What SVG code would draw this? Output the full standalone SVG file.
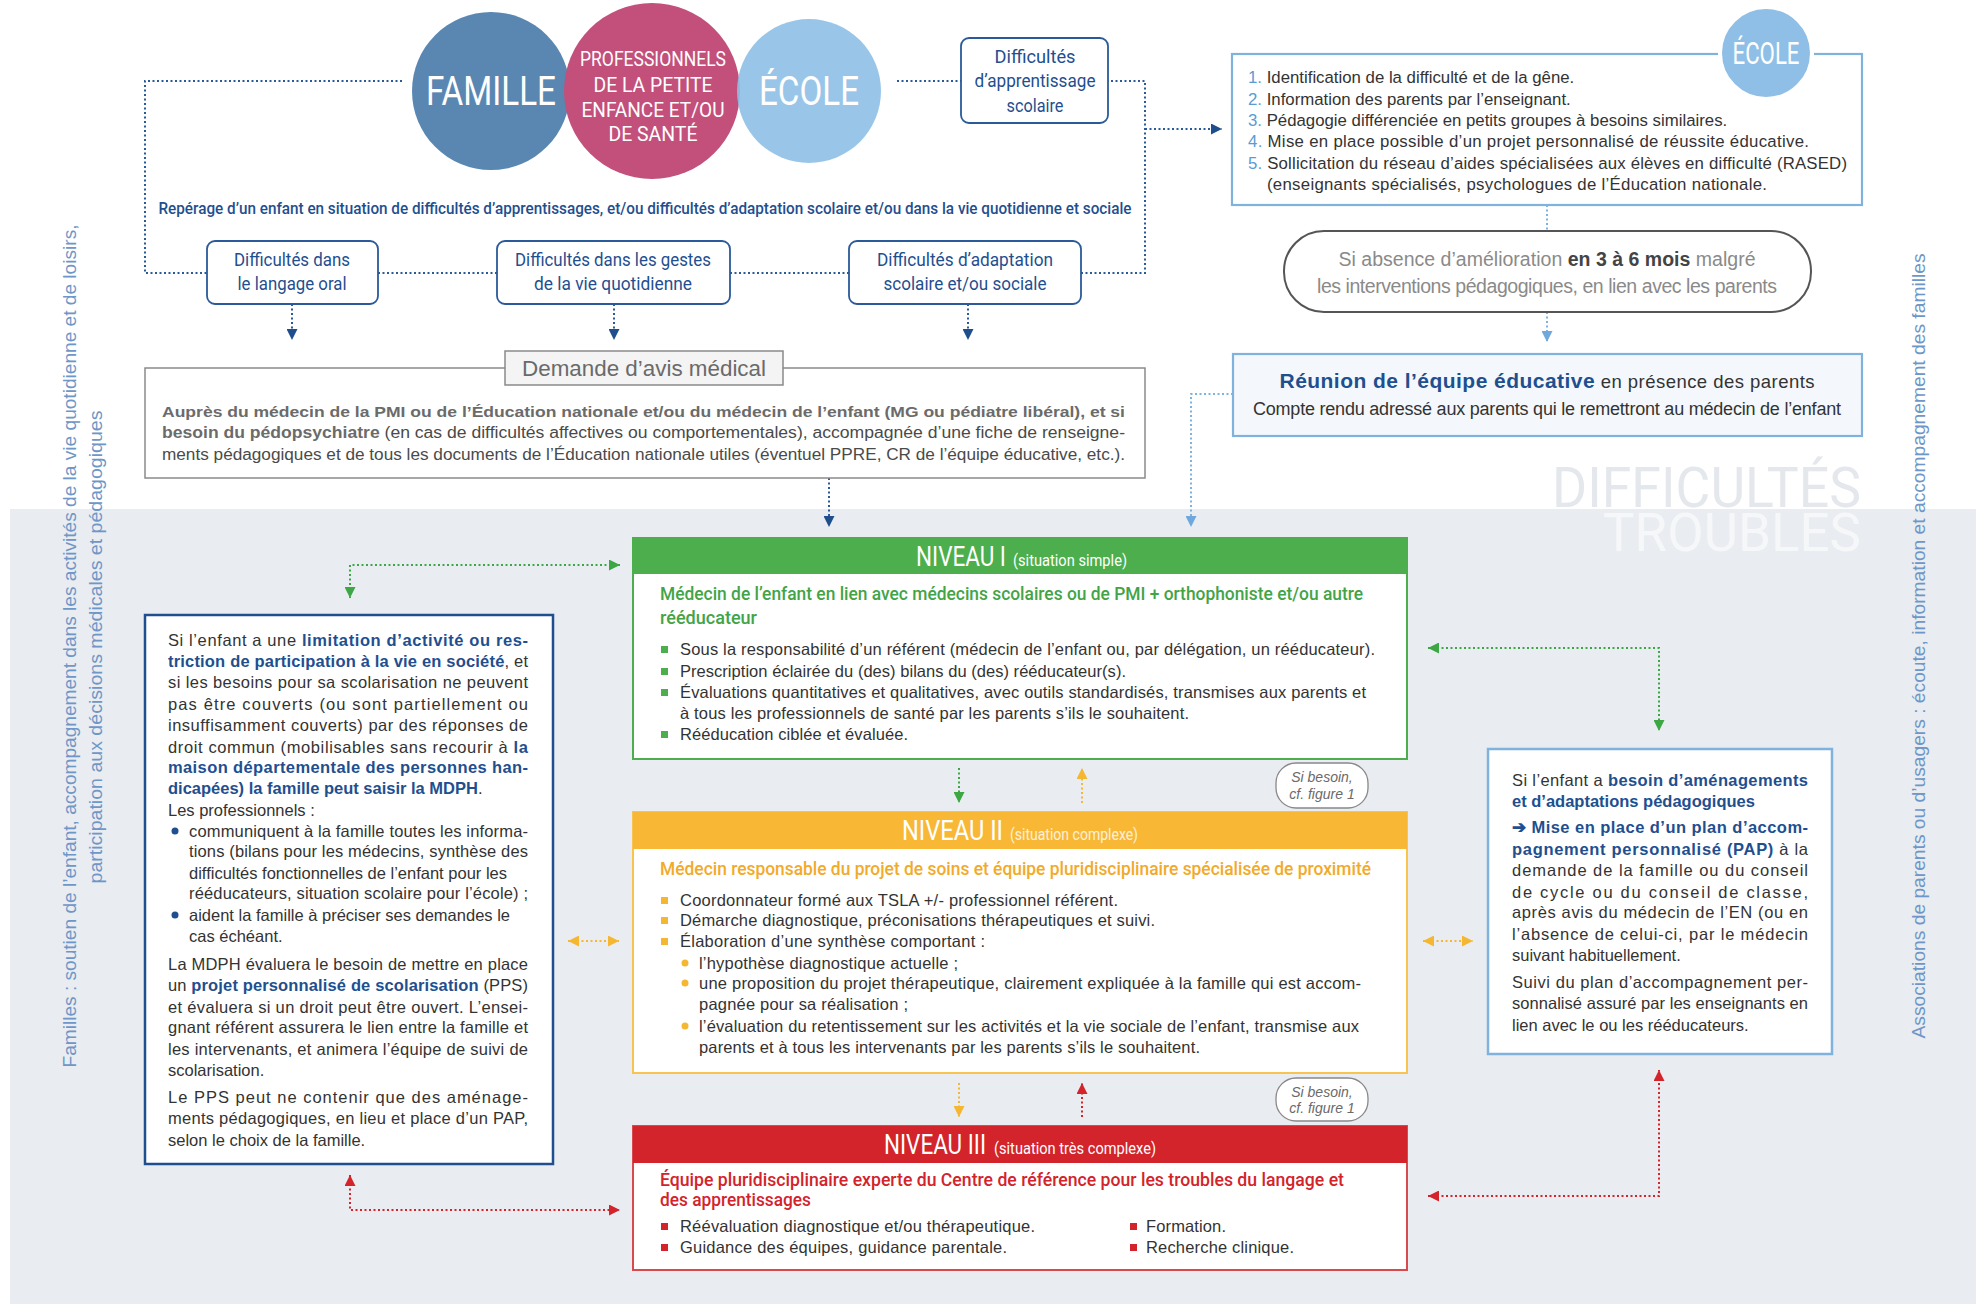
<svg xmlns="http://www.w3.org/2000/svg" width="1981" height="1304" viewBox="0 0 1981 1304">
<defs>
<style>
.t{font-family:"Liberation Sans",Arial,sans-serif;font-size:16.5px;fill:#333}
.b{font-weight:bold;fill:#1f4f8f}
.c{font-family:Roboto,"Open Sans",sans-serif}
.dot{fill:none;stroke-width:2;stroke-dasharray:2 2.5}
.nv{stroke:#2a5a9a}
.lb{stroke:#7fb3de}
.gr{stroke:#3da744}
.or{stroke:#f5b731}
.rd{stroke:#d3232b}
.box{fill:#fff;stroke:#2a5a9a;stroke-width:1.8}
.bt{font-family:Roboto,"Open Sans",sans-serif;font-size:18px;fill:#1f4f8f}
.hd{font-family:Roboto,"Open Sans",sans-serif;fill:#fff}
.pill{fill:#fff;stroke:#888;stroke-width:1.3}
.pt{font-family:"Liberation Sans",Arial,sans-serif;font-style:italic;font-size:14px;fill:#6a6a6a}
.side{font-family:"Liberation Sans",Arial,sans-serif;font-size:18px;fill:#6e96c6}
</style>
<marker id="aNv" viewBox="0 0 10 10" refX="10" refY="5" markerWidth="11" markerHeight="11" markerUnits="userSpaceOnUse" orient="auto-start-reverse"><path d="M0,0 L10,5 L0,10 z" fill="#1f4e8c"/></marker>
<marker id="aLb" viewBox="0 0 10 10" refX="10" refY="5" markerWidth="11" markerHeight="11" markerUnits="userSpaceOnUse" orient="auto-start-reverse"><path d="M0,0 L10,5 L0,10 z" fill="#6fa8dc"/></marker>
<marker id="aGr" viewBox="0 0 10 10" refX="10" refY="5" markerWidth="11" markerHeight="11" markerUnits="userSpaceOnUse" orient="auto-start-reverse"><path d="M0,0 L10,5 L0,10 z" fill="#3da744"/></marker>
<marker id="aOr" viewBox="0 0 10 10" refX="10" refY="5" markerWidth="11" markerHeight="11" markerUnits="userSpaceOnUse" orient="auto-start-reverse"><path d="M0,0 L10,5 L0,10 z" fill="#f5b731"/></marker>
<marker id="aRd" viewBox="0 0 10 10" refX="10" refY="5" markerWidth="11" markerHeight="11" markerUnits="userSpaceOnUse" orient="auto-start-reverse"><path d="M0,0 L10,5 L0,10 z" fill="#d3232b"/></marker>
</defs>

<rect x="0" y="0" width="1981" height="1304" fill="#fff"/>
<rect x="10" y="509" width="1966" height="795" fill="#e9ecf1"/>

<g id="watermark" class="c">
<text x="1552" y="507" font-size="55" fill="#e4e7ec" textLength="309" lengthAdjust="spacingAndGlyphs">DIFFICULTÉS</text>
<text x="1603" y="551" font-size="53" fill="#f6f7f9" textLength="258" lengthAdjust="spacingAndGlyphs">TROUBLES</text>
</g>

<g id="side-left" class="side" text-anchor="middle">
<text transform="translate(76,646) rotate(-90)" textLength="843" lengthAdjust="spacingAndGlyphs">Familles : soutien de l’enfant, accompagnement dans les activités de la vie quotidienne et de loisirs,</text>
<text transform="translate(102,647) rotate(-90)" textLength="473" lengthAdjust="spacingAndGlyphs">participation aux décisions médicales et pédagogiques</text>
</g>
<g id="side-right" class="side" text-anchor="middle">
<text transform="translate(1925,646) rotate(-90)" textLength="785" lengthAdjust="spacingAndGlyphs">Associations de parents ou d’usagers : écoute, information et accompagnement des familles</text>
</g>

<g id="connectors">
<path class="dot nv" d="M402,81 H145 V273 H207 M378,273 H497 M730,273 H849 M1081,273 H1145 V81 H1108 M897,81 H961"/>
<path class="dot nv" d="M1145,129 H1222" marker-end="url(#aNv)"/>
<path class="dot nv" d="M292,304 V340" marker-end="url(#aNv)"/>
<path class="dot nv" d="M614,304 V340" marker-end="url(#aNv)"/>
<path class="dot nv" d="M968,304 V340" marker-end="url(#aNv)"/>
<path class="dot nv" d="M829,478 V527" marker-end="url(#aNv)"/>
<path class="dot lb" d="M1547,205 V231"/>
<path class="dot lb" d="M1547,312 V342" marker-end="url(#aLb)"/>
<path class="dot lb" d="M1233,394 H1191 V527" marker-end="url(#aLb)"/>
<path class="dot gr" d="M620,565 H350 V598" marker-start="url(#aGr)" marker-end="url(#aGr)"/>
<path class="dot gr" d="M1428,648 H1659 V731" marker-start="url(#aGr)" marker-end="url(#aGr)"/>
<path class="dot gr" d="M959,768 V803" marker-end="url(#aGr)"/>
<path class="dot or" d="M1082,803 V768" marker-end="url(#aOr)"/>
<path class="dot or" d="M568,941 H619" marker-start="url(#aOr)" marker-end="url(#aOr)"/>
<path class="dot or" d="M1423,941 H1473" marker-start="url(#aOr)" marker-end="url(#aOr)"/>
<path class="dot or" d="M959,1083 V1117" marker-end="url(#aOr)"/>
<path class="dot rd" d="M1082,1117 V1083" marker-end="url(#aRd)"/>
<path class="dot rd" d="M350,1175 V1210 H620" marker-start="url(#aRd)" marker-end="url(#aRd)"/>
<path class="dot rd" d="M1428,1196 H1659 V1070" marker-start="url(#aRd)" marker-end="url(#aRd)"/>
</g>

<g id="famille">
<circle cx="491" cy="91" r="79" fill="#5a87b2"/>
<text class="hd" x="491" y="105" font-size="40" text-anchor="middle" textLength="130" lengthAdjust="spacingAndGlyphs">FAMILLE</text>
</g>
<g id="professionnels">
<circle cx="652" cy="91" r="88" fill="#c2507b"/>
<g class="hd" font-size="20" text-anchor="middle">
<text x="653" y="66" textLength="146" lengthAdjust="spacingAndGlyphs">PROFESSIONNELS</text>
<text x="653" y="92" textLength="119" lengthAdjust="spacingAndGlyphs">DE LA PETITE</text>
<text x="653" y="117" textLength="143" lengthAdjust="spacingAndGlyphs">ENFANCE ET/OU</text>
<text x="653" y="141" textLength="89" lengthAdjust="spacingAndGlyphs">DE SANTÉ</text>
</g>
</g>
<g id="ecole">
<circle cx="809" cy="91" r="72" fill="#8ec0e6" opacity="0.9"/>
<text class="hd" x="809" y="105" font-size="40" text-anchor="middle" textLength="100" lengthAdjust="spacingAndGlyphs">ÉCOLE</text>
</g>

<g id="diff-apprentissage">
<rect class="box" x="961" y="38" width="147" height="85" rx="8"/>
<text class="bt" x="1035" y="63" text-anchor="middle" textLength="81" lengthAdjust="spacingAndGlyphs">Difficultés</text>
<text class="bt" x="1035" y="87" text-anchor="middle" textLength="121" lengthAdjust="spacingAndGlyphs">d’apprentissage</text>
<text class="bt" x="1035" y="112" text-anchor="middle" textLength="57" lengthAdjust="spacingAndGlyphs">scolaire</text>
</g>

<g id="reperage">
<text class="c" x="645" y="214" font-size="17" font-weight="500" fill="#1f4f8f" text-anchor="middle" textLength="973" lengthAdjust="spacingAndGlyphs">Repérage d’un enfant en situation de difficultés d’apprentissages, et/ou difficultés d’adaptation scolaire et/ou dans la vie quotidienne et sociale</text>
</g>

<g id="diff-langage">
<rect class="box" x="207" y="241" width="171" height="63" rx="8"/>
<text class="bt" x="292" y="266" text-anchor="middle" textLength="116" lengthAdjust="spacingAndGlyphs">Difficultés dans</text>
<text class="bt" x="292" y="290" text-anchor="middle" textLength="109" lengthAdjust="spacingAndGlyphs">le langage oral</text>
</g>
<g id="diff-gestes">
<rect class="box" x="497" y="241" width="233" height="63" rx="8"/>
<text class="bt" x="613" y="266" text-anchor="middle" textLength="196" lengthAdjust="spacingAndGlyphs">Difficultés dans les gestes</text>
<text class="bt" x="613" y="290" text-anchor="middle" textLength="158" lengthAdjust="spacingAndGlyphs">de la vie quotidienne</text>
</g>
<g id="diff-adaptation">
<rect class="box" x="849" y="241" width="232" height="63" rx="8"/>
<text class="bt" x="965" y="266" text-anchor="middle" textLength="176" lengthAdjust="spacingAndGlyphs">Difficultés d’adaptation</text>
<text class="bt" x="965" y="290" text-anchor="middle" textLength="163" lengthAdjust="spacingAndGlyphs">scolaire et/ou sociale</text>
</g>

<g id="demande-avis">
<rect x="145" y="368" width="1000" height="110" fill="#fff" stroke="#8a8a8a" stroke-width="1.5"/>
<rect x="505" y="351" width="278" height="34" fill="#f4f4f4" stroke="#8a8a8a" stroke-width="1.5"/>
<text class="t" x="644" y="376" style="font-size:21.5px;fill:#6a6a6a" text-anchor="middle" textLength="244" lengthAdjust="spacingAndGlyphs">Demande d’avis médical</text>
<text class="t" x="162" y="417" font-weight="bold" style="font-size:15.5px;fill:#6b6b6b" textLength="963" lengthAdjust="spacingAndGlyphs">Auprès du médecin de la PMI ou de l’Éducation nationale et/ou du médecin de l’enfant (MG ou pédiatre libéral), et si</text>
<text class="t" x="162" y="438" style="font-size:16px;fill:#4a4a4a" textLength="963" lengthAdjust="spacingAndGlyphs"><tspan font-weight="bold" style="fill:#6b6b6b">besoin du pédopsychiatre</tspan> (en cas de difficultés affectives ou comportementales), accompagnée d’une fiche de renseigne-</text>
<text class="t" x="162" y="460" style="font-size:16px;fill:#4a4a4a" textLength="963" lengthAdjust="spacingAndGlyphs">ments pédagogiques et de tous les documents de l’Éducation nationale utiles (éventuel PPRE, CR de l’équipe éducative, etc.).</text>
</g>

<g id="ecole-actions">
<rect x="1232" y="54" width="630" height="151" fill="#fff" stroke="#7fb3de" stroke-width="2.2"/>
<circle cx="1766" cy="53" r="46" fill="#8fbfe6" stroke="#fff" stroke-width="4"/>
<text class="hd" x="1766" y="64" font-size="31" text-anchor="middle" textLength="67" lengthAdjust="spacingAndGlyphs">ÉCOLE</text>
<g class="t" style="font-size:16.8px">
<text x="1248" y="83"><tspan style="fill:#5b9bd5">1.</tspan> Identification de la difficulté et de la gêne.</text>
<text x="1248" y="105"><tspan style="fill:#5b9bd5">2.</tspan> Information des parents par l’enseignant.</text>
<text x="1248" y="126"><tspan style="fill:#5b9bd5">3.</tspan> Pédagogie différenciée en petits groupes à besoins similaires.</text>
<text x="1248" y="147" textLength="561" lengthAdjust="spacing"><tspan style="fill:#5b9bd5">4.</tspan> Mise en place possible d’un projet personnalisé de réussite éducative.</text>
<text x="1248" y="169" textLength="599" lengthAdjust="spacing"><tspan style="fill:#5b9bd5">5.</tspan> Sollicitation du réseau d’aides spécialisées aux élèves en difficulté (RASED)</text>
<text x="1267" y="190" textLength="500" lengthAdjust="spacing">(enseignants spécialisés, psychologues de l’Éducation nationale.</text>
</g>
</g>

<g id="absence-amelioration">
<rect x="1284" y="231" width="527" height="81" rx="40" fill="#fff" stroke="#555" stroke-width="2"/>
<text class="t" x="1547" y="266" style="font-size:19.5px;fill:#8a8a8a" text-anchor="middle" textLength="417" lengthAdjust="spacing">Si absence d’amélioration <tspan font-weight="bold" style="fill:#444">en 3 à 6 mois</tspan> malgré</text>
<text class="t" x="1547" y="293" style="font-size:19.5px;fill:#8a8a8a" text-anchor="middle" textLength="460" lengthAdjust="spacing">les interventions pédagogiques, en lien avec les parents</text>
</g>

<g id="reunion">
<rect x="1233" y="354" width="629" height="82" fill="#f4f8fc" stroke="#7fb3de" stroke-width="2.2"/>
<text class="t" x="1547" y="388" style="font-size:18.5px" text-anchor="middle" textLength="535" lengthAdjust="spacing"><tspan font-weight="bold" style="font-size:21px;fill:#1f4f8f">Réunion de l’équipe éducative</tspan> en présence des parents</text>
<text class="t" x="1547" y="415" style="font-size:18px" text-anchor="middle" textLength="588" lengthAdjust="spacing">Compte rendu adressé aux parents qui le remettront au médecin de l’enfant</text>
</g>

<g id="niveau-1">
<rect x="633" y="538" width="774" height="221" fill="#fff" stroke="#4cae4c" stroke-width="2"/>
<rect x="633" y="538" width="774" height="36" fill="#4cae4c"/>
<text class="hd" x="916" y="566" font-size="27" textLength="90" lengthAdjust="spacingAndGlyphs">NIVEAU I</text>
<text class="hd" x="1013" y="566" font-size="16" textLength="114" lengthAdjust="spacingAndGlyphs">(situation simple)</text>
<text class="c" x="660" y="600" font-size="19" font-weight="500" fill="#43a447" textLength="703" lengthAdjust="spacingAndGlyphs">Médecin de l’enfant en lien avec médecins scolaires ou de PMI + orthophoniste et/ou autre</text>
<text class="c" x="660" y="624" font-size="19" font-weight="500" fill="#43a447" textLength="97" lengthAdjust="spacingAndGlyphs">rééducateur</text>
<g fill="#4cae4c">
<rect x="661" y="646" width="7" height="7"/><rect x="661" y="668" width="7" height="7"/><rect x="661" y="689" width="7" height="7"/><rect x="661" y="731" width="7" height="7"/>
</g>
<g class="t">
<text x="680" y="655" textLength="695" lengthAdjust="spacing">Sous la responsabilité d’un référent (médecin de l’enfant ou, par délégation, un rééducateur).</text>
<text x="680" y="677" textLength="446" lengthAdjust="spacing">Prescription éclairée du (des) bilans du (des) rééducateur(s).</text>
<text x="680" y="698" textLength="686" lengthAdjust="spacing">Évaluations quantitatives et qualitatives, avec outils standardisés, transmises aux parents et</text>
<text x="680" y="719" textLength="509" lengthAdjust="spacing">à tous les professionnels de santé par les parents s’ils le souhaitent.</text>
<text x="680" y="740" textLength="228" lengthAdjust="spacing">Rééducation ciblée et évaluée.</text>
</g>
</g>

<g id="si-besoin-1">
<rect class="pill" x="1276" y="763" width="92" height="45" rx="20"/>
<text class="pt" x="1322" y="782" text-anchor="middle">Si besoin,</text>
<text class="pt" x="1322" y="799" text-anchor="middle">cf. figure 1</text>
</g>

<g id="niveau-2">
<rect x="633" y="812" width="774" height="261" fill="#fff" stroke="#f8c34f" stroke-width="2"/>
<rect x="633" y="812" width="774" height="37" fill="#f8b836"/>
<text class="hd" x="902" y="840" font-size="27" textLength="101" lengthAdjust="spacingAndGlyphs">NIVEAU II</text>
<text class="hd" x="1010" y="840" font-size="16.5" opacity="0.8" textLength="128" lengthAdjust="spacingAndGlyphs">(situation complexe)</text>
<text class="c" x="660" y="875" font-size="19" font-weight="500" fill="#f2aa2a" textLength="711" lengthAdjust="spacingAndGlyphs">Médecin responsable du projet de soins et équipe pluridisciplinaire spécialisée de proximité</text>
<g fill="#f5b731">
<rect x="661" y="897" width="7" height="7"/><rect x="661" y="917" width="7" height="7"/><rect x="661" y="938" width="7" height="7"/>
<circle cx="685" cy="963" r="3.5"/><circle cx="685" cy="983" r="3.5"/><circle cx="685" cy="1026" r="3.5"/>
</g>
<g class="t">
<text x="680" y="906" textLength="438" lengthAdjust="spacing">Coordonnateur formé aux TSLA +/- professionnel référent.</text>
<text x="680" y="926" textLength="475" lengthAdjust="spacing">Démarche diagnostique, préconisations thérapeutiques et suivi.</text>
<text x="680" y="947" textLength="305" lengthAdjust="spacing">Élaboration d’une synthèse comportant :</text>
<text x="699" y="969" textLength="259" lengthAdjust="spacing">l’hypothèse diagnostique actuelle ;</text>
<text x="699" y="989" textLength="662" lengthAdjust="spacing">une proposition du projet thérapeutique, clairement expliquée à la famille qui est accom-</text>
<text x="699" y="1010" textLength="209" lengthAdjust="spacing">pagnée pour sa réalisation ;</text>
<text x="699" y="1032" textLength="660" lengthAdjust="spacing">l’évaluation du retentissement sur les activités et la vie sociale de l’enfant, transmise aux</text>
<text x="699" y="1053" textLength="501" lengthAdjust="spacing">parents et à tous les intervenants par les parents s’ils le souhaitent.</text>
</g>
</g>

<g id="si-besoin-2">
<rect class="pill" x="1276" y="1078" width="92" height="43" rx="20"/>
<text class="pt" x="1322" y="1097" text-anchor="middle">Si besoin,</text>
<text class="pt" x="1322" y="1113" text-anchor="middle">cf. figure 1</text>
</g>

<g id="niveau-3">
<rect x="633" y="1126" width="774" height="144" fill="#fff" stroke="#d94a4f" stroke-width="2"/>
<rect x="633" y="1126" width="774" height="37" fill="#d3232b"/>
<text class="hd" x="884" y="1154" font-size="27" textLength="102" lengthAdjust="spacingAndGlyphs">NIVEAU III</text>
<text class="hd" x="994" y="1154" font-size="16.5" textLength="162" lengthAdjust="spacingAndGlyphs">(situation très complexe)</text>
<text class="c" x="660" y="1186" font-size="18.5" font-weight="500" fill="#d3232b" textLength="684" lengthAdjust="spacingAndGlyphs">Équipe pluridisciplinaire experte du Centre de référence pour les troubles du langage et</text>
<text class="c" x="660" y="1206" font-size="18.5" font-weight="500" fill="#d3232b" textLength="151" lengthAdjust="spacingAndGlyphs">des apprentissages</text>
<g fill="#d3232b">
<rect x="661" y="1223" width="7" height="7"/><rect x="661" y="1244" width="7" height="7"/>
<rect x="1130" y="1223" width="7" height="7"/><rect x="1130" y="1244" width="7" height="7"/>
</g>
<g class="t">
<text x="680" y="1232" textLength="355" lengthAdjust="spacing">Réévaluation diagnostique et/ou thérapeutique.</text>
<text x="680" y="1253" textLength="327" lengthAdjust="spacing">Guidance des équipes, guidance parentale.</text>
<text x="1146" y="1232" textLength="80" lengthAdjust="spacing">Formation.</text>
<text x="1146" y="1253" textLength="148" lengthAdjust="spacing">Recherche clinique.</text>
</g>
</g>

<g id="mdph">
<rect x="145" y="615" width="408" height="549" fill="#fff" stroke="#1f4f8f" stroke-width="2.5"/>
<g class="t">
<text x="168" y="646" textLength="360" lengthAdjust="spacing">Si l’enfant a une <tspan class="b">limitation d’activité ou res-</tspan></text>
<text x="168" y="667" textLength="360" lengthAdjust="spacing"><tspan class="b">triction de participation à la vie en société</tspan>, et</text>
<text x="168" y="688" textLength="360" lengthAdjust="spacing">si les besoins pour sa scolarisation ne peuvent</text>
<text x="168" y="710" textLength="360" lengthAdjust="spacing">pas être couverts (ou sont partiellement ou</text>
<text x="168" y="731" textLength="360" lengthAdjust="spacing">insuffisamment couverts) par des réponses de</text>
<text x="168" y="753" textLength="360" lengthAdjust="spacing">droit commun (mobilisables sans recourir à <tspan class="b">la</tspan></text>
<text x="168" y="773" textLength="360" lengthAdjust="spacing"><tspan class="b">maison départementale des personnes han-</tspan></text>
<text x="168" y="794"><tspan class="b">dicapées) la famille peut saisir la MDPH</tspan>.</text>
<text x="168" y="816">Les professionnels :</text>
<text x="189" y="837" textLength="339" lengthAdjust="spacing">communiquent à la famille toutes les informa-</text>
<text x="189" y="857" textLength="339" lengthAdjust="spacing">tions (bilans pour les médecins, synthèse des</text>
<text x="189" y="879">difficultés fonctionnelles de l’enfant pour les</text>
<text x="189" y="899" textLength="339" lengthAdjust="spacing">rééducateurs, situation scolaire pour l’école) ;</text>
<text x="189" y="921">aident la famille à préciser ses demandes le</text>
<text x="189" y="942">cas échéant.</text>
<text x="168" y="970" textLength="360" lengthAdjust="spacing">La MDPH évaluera le besoin de mettre en place</text>
<text x="168" y="991" textLength="360" lengthAdjust="spacing">un <tspan class="b">projet personnalisé de scolarisation</tspan> (PPS)</text>
<text x="168" y="1013" textLength="360" lengthAdjust="spacing">et évaluera si un droit peut être ouvert. L’ensei-</text>
<text x="168" y="1033" textLength="360" lengthAdjust="spacing">gnant référent assurera le lien entre la famille et</text>
<text x="168" y="1055" textLength="360" lengthAdjust="spacing">les intervenants, et animera l’équipe de suivi de</text>
<text x="168" y="1076">scolarisation.</text>
<text x="168" y="1103" textLength="360" lengthAdjust="spacing">Le PPS peut ne contenir que des aménage-</text>
<text x="168" y="1124" textLength="360" lengthAdjust="spacing">ments pédagogiques, en lieu et place d’un PAP,</text>
<text x="168" y="1146">selon le choix de la famille.</text>
</g>
<circle cx="175" cy="831" r="3.5" fill="#1f4f8f"/>
<circle cx="175" cy="915" r="3.5" fill="#1f4f8f"/>
</g>

<g id="pap">
<rect x="1488" y="749" width="344" height="305" fill="#fff" stroke="#7fb3de" stroke-width="2.5"/>
<g class="t">
<text x="1512" y="786" textLength="296" lengthAdjust="spacing">Si l’enfant a <tspan class="b">besoin d’aménagements</tspan></text>
<text x="1512" y="807"><tspan class="b">et d’adaptations pédagogiques</tspan></text>
<text x="1512" y="833" textLength="296" lengthAdjust="spacing"><tspan class="b">➔ Mise en place d’un plan d’accom-</tspan></text>
<text x="1512" y="855" textLength="296" lengthAdjust="spacing"><tspan class="b">pagnement personnalisé (PAP)</tspan> à la</text>
<text x="1512" y="876" textLength="296" lengthAdjust="spacing">demande de la famille ou du conseil</text>
<text x="1512" y="898" textLength="296" lengthAdjust="spacing">de cycle ou du conseil de classe,</text>
<text x="1512" y="918" textLength="296" lengthAdjust="spacing">après avis du médecin de l’EN (ou en</text>
<text x="1512" y="940" textLength="296" lengthAdjust="spacing">l’absence de celui-ci, par le médecin</text>
<text x="1512" y="961">suivant habituellement.</text>
<text x="1512" y="988" textLength="296" lengthAdjust="spacing">Suivi du plan d’accompagnement per-</text>
<text x="1512" y="1009" textLength="296" lengthAdjust="spacing">sonnalisé assuré par les enseignants en</text>
<text x="1512" y="1031">lien avec le ou les rééducateurs.</text>
</g>
</g>
</svg>
